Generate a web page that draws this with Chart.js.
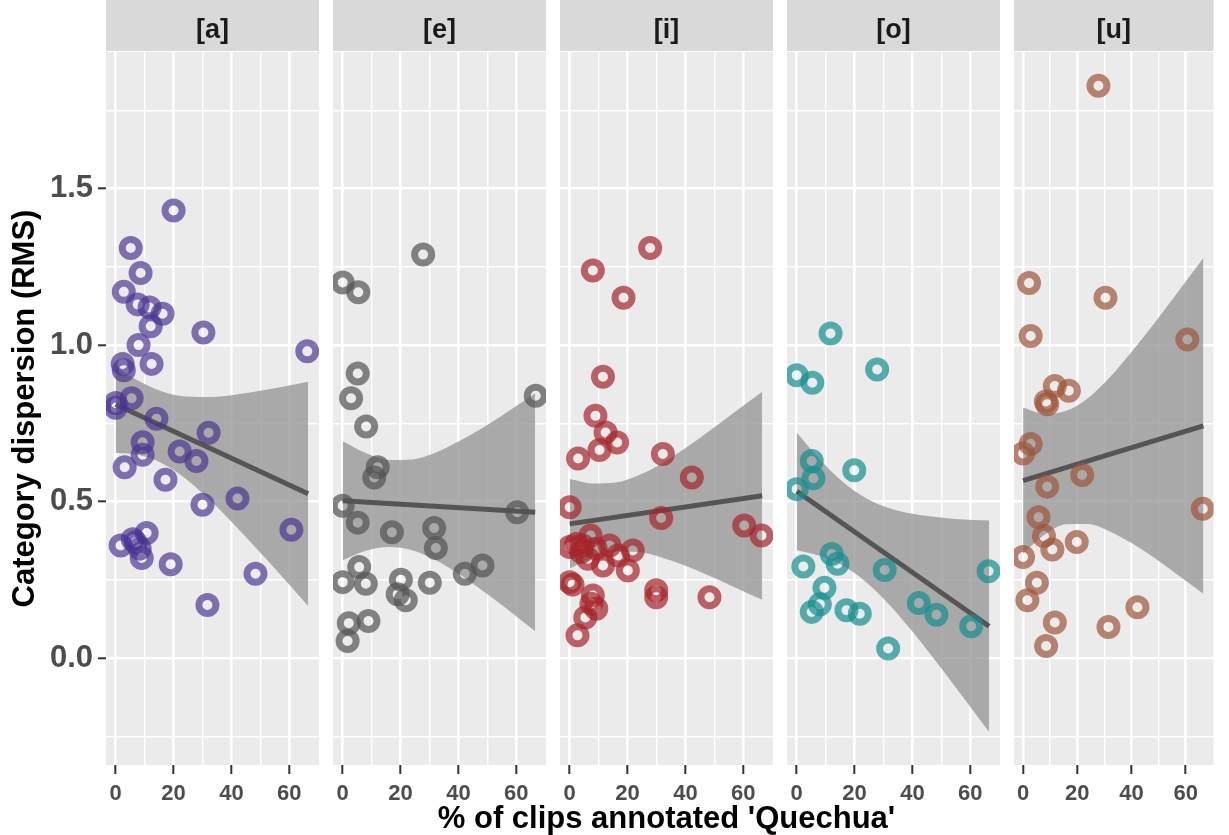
<!DOCTYPE html>
<html>
<head>
<title>Category dispersion</title>
<script src="https://cdn.jsdelivr.net/npm/chart.js"></script>
<style>
  body { margin: 0; background: #fff; }
  #wrap { position: relative; width: 1229px; height: 835px; }
  #wrap canvas { position: absolute; left: 0; top: 0; }
</style>
</head>
<body>
<div id="wrap">
  <canvas id="c0" width="1229" height="835"></canvas>
  <canvas id="c1" width="1229" height="835"></canvas>
  <canvas id="c2" width="1229" height="835"></canvas>
  <canvas id="c3" width="1229" height="835"></canvas>
  <canvas id="c4" width="1229" height="835"></canvas>
</div>
<script>
// facets and axes
const panelNames = ['[a]', '[e]', '[i]', '[o]', '[u]'];
const xTitle = "% of clips annotated 'Quechua'";
const yTitle = 'Category dispersion (RMS)';
const xGrid = [0, 10, 20, 30, 40, 50, 60];
const xTickLabels = [0, 20, 40, 60];
const yGrid = [-0.25, 0, 0.25, 0.5, 0.75, 1, 1.25, 1.5, 1.75];
const yTickLabels = [0, 0.5, 1, 1.5];

// points per vowel (x = % Quechua, y = RMS dispersion)
const aX = [20.0, 5.2, 8.6, 2.8, 7.6, 11.7, 16.2, 12.1, 30.3, 7.9, 12.4, 2.4, 2.8, 66.2, 0.0, 0.0, 5.5, 14.1, 32.1, 9.3, 9.3, 22.1, 27.9, 17.2, 3.1, 42.1, 30.0, 60.7, 10.7, 5.9, 1.7, 6.9, 8.3, 9.0, 19.0, 48.3, 31.7];
const aY = [1.43, 1.31, 1.23, 1.17, 1.13, 1.12, 1.10, 1.06, 1.04, 1.00, 0.94, 0.94, 0.92, 0.98, 0.815, 0.80, 0.83, 0.765, 0.72, 0.69, 0.65, 0.66, 0.63, 0.57, 0.61, 0.51, 0.49, 0.41, 0.40, 0.38, 0.36, 0.37, 0.35, 0.32, 0.30, 0.27, 0.17];
const eX = [27.8, 0.0, 5.4, 5.2, 2.9, 8.1, 12.1, 10.9, 0.0, 5.2, 66.7, 60.3, 17.0, 31.6, 32.2, 5.7, 0.0, 8.0, 20.1, 30.1, 42.2, 48.3, 19.0, 21.8, 2.1, 8.9, 1.7];
const eY = [1.289, 1.20, 1.169, 0.909, 0.83, 0.74, 0.61, 0.577, 0.487, 0.433, 0.838, 0.466, 0.402, 0.416, 0.352, 0.291, 0.243, 0.238, 0.251, 0.241, 0.27, 0.296, 0.204, 0.185, 0.112, 0.119, 0.055];
const iX = [27.8, 8.0, 18.6, 11.5, 8.9, 12.4, 16.4, 10.3, 2.9, 32.2, 42.2, 0.0, 31.6, 60.3, 66.3, 7.2, 2.3, 0.0, 4.0, 6.3, 13.8, 16.7, 21.8, 11.5, 20.1, 0.0, 1.0, 8.0, 7.5, 9.2, 29.9, 29.9, 48.3, 5.4, 2.7, 4.5, 9.0];
const iY = [1.31, 1.238, 1.151, 0.899, 0.774, 0.721, 0.689, 0.665, 0.638, 0.652, 0.577, 0.482, 0.448, 0.424, 0.392, 0.392, 0.365, 0.355, 0.339, 0.318, 0.36, 0.328, 0.344, 0.296, 0.28, 0.243, 0.235, 0.2, 0.174, 0.158, 0.217, 0.195, 0.195, 0.13, 0.073, 0.36, 0.35];
const oX = [11.7, 0.0, 5.4, 27.8, 5.2, 19.9, 5.8, 0.0, 2.3, 12.1, 14.1, 30.4, 66.3, 9.6, 8.0, 5.2, 17.2, 21.8, 42.2, 48.3, 60.3, 31.6];
const oY = [1.037, 0.904, 0.88, 0.922, 0.63, 0.60, 0.575, 0.54, 0.293, 0.333, 0.302, 0.282, 0.278, 0.225, 0.172, 0.148, 0.153, 0.142, 0.176, 0.139, 0.102, 0.031];
const uX = [27.8, 2.2, 30.4, 2.8, 60.6, 11.7, 16.9, 8.9, 8.4, 2.8, 0.0, 21.8, 8.9, 66.3, 5.7, 7.7, 10.8, 19.8, 0.0, 5.1, 1.6, 11.7, 31.5, 42.2, 8.5];
const uY = [1.828, 1.198, 1.151, 1.029, 1.018, 0.869, 0.854, 0.811, 0.82, 0.684, 0.654, 0.585, 0.548, 0.477, 0.45, 0.39, 0.347, 0.371, 0.323, 0.241, 0.185, 0.114, 0.1, 0.163, 0.039];

// linear fits and their confidence bands
const fitX = [0, 66.5];
const aFit = [0.81, 0.525];
const eFit = [0.503, 0.466];
const iFit = [0.429, 0.519];
const oFit = [0.533, 0.102];
const uFit = [0.567, 0.742];
const bandX = [0, 8, 16, 24, 32, 40, 48, 56, 66.5];
const aHi = [0.93, 0.885, 0.852, 0.836, 0.834, 0.840, 0.851, 0.864, 0.883];
const aLo = [0.656, 0.649, 0.623, 0.575, 0.510, 0.436, 0.357, 0.276, 0.167];
const eHi = [0.693, 0.655, 0.633, 0.635, 0.656, 0.692, 0.734, 0.781, 0.846];
const eLo = [0.313, 0.343, 0.355, 0.345, 0.314, 0.270, 0.218, 0.163, 0.086];
const iHi = [0.572, 0.558, 0.561, 0.585, 0.623, 0.671, 0.724, 0.779, 0.851];
const iLo = [0.286, 0.322, 0.341, 0.339, 0.321, 0.295, 0.264, 0.231, 0.187];
const oHi = [0.721, 0.635, 0.563, 0.511, 0.479, 0.461, 0.451, 0.444, 0.440];
const oLo = [0.345, 0.327, 0.295, 0.243, 0.171, 0.085, -0.009, -0.106, -0.236];
const uHi = [0.800, 0.781, 0.790, 0.831, 0.897, 0.978, 1.065, 1.157, 1.278];
const uLo = [0.334, 0.395, 0.428, 0.429, 0.405, 0.368, 0.323, 0.273, 0.206];

const pointColors = ['rgba(72,52,145,0.68)', 'rgba(82,82,82,0.7)', 'rgba(165,35,42,0.7)', 'rgba(20,142,142,0.7)', 'rgba(156,85,57,0.7)'];

const panels = [
  { xs: aX, ys: aY, fit: aFit, hi: aHi, lo: aLo },
  { xs: eX, ys: eY, fit: eFit, hi: eHi, lo: eLo },
  { xs: iX, ys: iY, fit: iFit, hi: iHi, lo: iLo },
  { xs: oX, ys: oY, fit: oFit, hi: oHi, lo: oLo },
  { xs: uX, ys: uY, fit: uFit, hi: uHi, lo: uLo }
];

const W = 1229;
const panelLefts = [106, 333, 560, 787, 1014];
const panelW = 213;
const FONT = "'Liberation Sans', Arial, sans-serif";

// grey panel + strip background
const panelBg = {
  id: 'panelBg',
  beforeDraw(chart) {
    const { ctx, chartArea: a } = chart;
    ctx.save();
    ctx.fillStyle = '#d9d9d9';
    ctx.fillRect(a.left, 0, a.right - a.left, a.top - 1);
    ctx.fillStyle = '#ebebeb';
    ctx.fillRect(a.left, a.top, a.right - a.left, a.bottom - a.top);
    ctx.restore();
  }
};

// shared x title, centred under the middle facet (scale titles get squeezed to the panel width)
const sharedXTitle = {
  id: 'sharedXTitle',
  afterDraw(chart, args, opts) {
    if (!opts.show) return;
    const { ctx, chartArea: a } = chart;
    ctx.save();
    ctx.font = 'bold 31px ' + FONT;
    ctx.fillStyle = '#000000';
    ctx.textAlign = 'center';
    ctx.textBaseline = 'middle';
    ctx.fillText(xTitle, (a.left + a.right) / 2, 819);
    ctx.restore();
  }
};

const pts = (xs, ys) => xs.map((x, i) => ({ x: x, y: ys[i] }));

panels.forEach((p, idx) => {
  const first = idx === 0;
  const left = panelLefts[idx];
  new Chart(document.getElementById('c' + idx), {
    type: 'scatter',
    data: {
      datasets: [
        { type: 'line', data: pts(bandX, p.hi), borderColor: 'transparent', pointRadius: 0,
          fill: '+1', backgroundColor: 'rgba(153,153,153,0.8)', cubicInterpolationMode: 'monotone', order: 3 },
        { type: 'line', data: pts(bandX, p.lo), borderColor: 'transparent', pointRadius: 0,
          fill: false, cubicInterpolationMode: 'monotone', order: 4 },
        { type: 'line', data: pts(fitX, p.fit), borderColor: '#555555', borderWidth: 5, pointRadius: 0,
          fill: false, order: 2 },
        { data: pts(p.xs, p.ys), pointRadius: 8.5, pointHoverRadius: 8.5, borderWidth: 7,
          borderColor: pointColors[idx], backgroundColor: 'transparent', order: 1 }
      ]
    },
    options: {
      responsive: false,
      devicePixelRatio: 1,
      animation: false,
      events: [],
      layout: { padding: { left: first ? 0 : left, right: W - left - panelW, top: 0, bottom: 0 } },
      plugins: {
        legend: { display: false },
        tooltip: { enabled: false },
        sharedXTitle: { show: idx === 2 },
        title: {
          display: true, text: panelNames[idx], fullSize: false, color: '#1a1a1a',
          font: { family: FONT, size: 27, weight: 'bold', lineHeight: 1.2 },
          padding: { top: 14, bottom: 5.6 }
        }
      },
      scales: {
        x: {
          type: 'linear', min: -3.35, max: 70.25,
          afterBuildTicks: s => { s.ticks = xGrid.map(v => ({ value: v })); },
          afterFit: s => { s.height = 70; },
          border: { display: false },
          grid: {
            color: '#ffffff',
            lineWidth: c => (c.tick && xTickLabels.includes(c.tick.value)) ? 2.6 : 1.4,
            tickColor: c => (c.tick && xTickLabels.includes(c.tick.value)) ? '#333333' : 'rgba(0,0,0,0)',
            tickWidth: 2, tickLength: 9
          },
          ticks: {
            autoSkip: false, maxRotation: 0, padding: 7, color: '#4d4d4d',
            font: { family: FONT, size: 22, weight: 'bold' },
            callback: v => xTickLabels.includes(v) ? String(v) : ''
          }
        },
        y: {
          type: 'linear', min: -0.341, max: 1.936,
          afterBuildTicks: s => { s.ticks = yGrid.map(v => ({ value: v })); },
          afterFit: s => { s.width = first ? 106 : 0; },
          border: { display: false },
          grid: {
            color: '#ffffff', drawTicks: first,
            lineWidth: c => (c.tick && yTickLabels.includes(c.tick.value)) ? 2.6 : 1.4,
            tickColor: c => (c.tick && yTickLabels.includes(c.tick.value)) ? '#333333' : 'rgba(0,0,0,0)',
            tickWidth: 2, tickLength: 8
          },
          ticks: {
            display: first, autoSkip: false, padding: 5, color: '#4d4d4d',
            font: { family: FONT, size: 31, weight: 'bold' },
            callback: v => yTickLabels.includes(v) ? v.toFixed(1) : ''
          },
          title: {
            display: first, text: yTitle, color: '#000000',
            font: { family: FONT, size: 31, weight: 'bold', lineHeight: 1.2 },
            padding: { top: 7, bottom: 0 }
          }
        }
      }
    },
    plugins: [panelBg, sharedXTitle]
  });
});
</script>
</body>
</html>
